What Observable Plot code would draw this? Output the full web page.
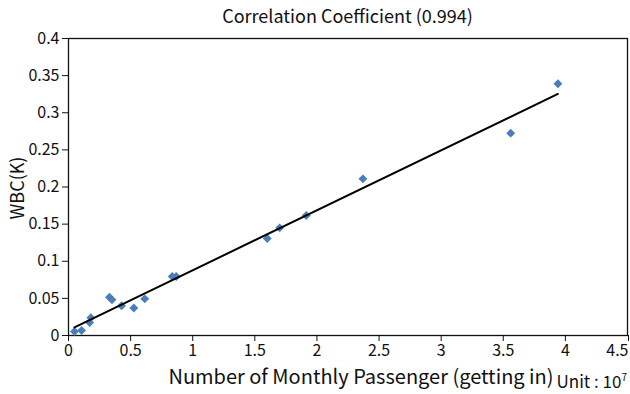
<!DOCTYPE html>
<html>
<head>
<meta charset="utf-8">
<script src="https://cdn.jsdelivr.net/npm/d3@7"></script>
<script src="https://cdn.jsdelivr.net/npm/@observablehq/plot@0.6"></script>
<style>
  body { margin: 0; background: #fff; }
  #chart { position: relative; width: 630px; height: 394px; overflow: hidden; font-family: "Noto Sans CJK KR", "Open Sans", sans-serif; color: #111; }
  #chart .lbl { position: absolute; white-space: nowrap; line-height: 1; }
  #title { top: 6px; left: 68px; width: 559px; text-align: center; font-size: 18px; }
  #xlabel { top: 366px; left: 361px; transform: translateX(-50%); font-size: 20px; }
  #ylabel { top: 188px; left: 16px; transform: translate(-50%, -50%) rotate(-90deg); font-size: 18px; }
  #unit { top: 372px; right: 3px; font-size: 17px; }
  #unit sup { font-size: 10px; vertical-align: 7px; }
</style>
</head>
<body>
<div id="chart">
  <div class="lbl" id="title">Correlation Coefficient (0.994)</div>
  <div class="lbl" id="ylabel">WBC(K)</div>
  <div class="lbl" id="xlabel">Number of Monthly Passenger (getting in)</div>
  <div class="lbl" id="unit">Unit : 10<sup>7</sup></div>
</div>
<script>
// Monthly passengers (units of 10^7) and WBC (K) per station
const passengers = [0.048, 0.105, 0.17, 0.18, 0.33, 0.35, 0.427, 0.526, 0.614, 0.835, 0.867, 1.60, 1.70, 1.914, 2.37, 3.56, 3.94];
const wbc        = [0.0054, 0.0067, 0.0175, 0.024, 0.0516, 0.048, 0.040, 0.037, 0.0494, 0.0795, 0.0795, 0.1306, 0.145, 0.1616, 0.211, 0.2725, 0.339];

// Axis tick values
const xTicks = [0, 0.5, 1, 1.5, 2, 2.5, 3, 3.5, 4, 4.5];
const yTicks = [0, 0.05, 0.1, 0.15, 0.2, 0.25, 0.3, 0.35, 0.4];

const points = passengers.map((x, i) => ({x, y: wbc[i]}));
const fmt = d => String(d);
const xLast = xTicks[xTicks.length - 1];

const plot = Plot.plot({
  width: 630,
  height: 394,
  marginTop: 38,
  marginRight: 3,
  marginBottom: 59,
  marginLeft: 68,
  style: {fontFamily: "'Noto Sans CJK KR', 'Open Sans', sans-serif", fontSize: "16px", color: "#111", background: "transparent"},
  x: {domain: [0, 4.5]},
  y: {domain: [0, 0.4]},
  marks: [
    Plot.frame({stroke: "#111", strokeWidth: 1.3}),
    // last x label is right-aligned to its tick so it stays inside the chart
    Plot.axisX({ticks: xTicks.slice(0, -1), tickFormat: fmt, tickSize: 6, tickPadding: 3, label: null, fontSize: 16, stroke: "#111"}),
    Plot.axisX({ticks: [xLast], tickFormat: fmt, tickSize: 6, tickPadding: 3, label: null, fontSize: 16, stroke: "#111", textAnchor: "end", dx: 1}),
    Plot.axisY({ticks: yTicks, tickFormat: fmt, tickSize: 6, tickPadding: 3, label: null, fontSize: 16, stroke: "#111"}),
    Plot.dot(points, {x: "x", y: "y", symbol: "diamond2", r: 4, fill: "#4a7ebb", stroke: "none"}),
    Plot.linearRegressionY(points, {x: "x", y: "y", ci: 0, stroke: "#000", strokeWidth: 2})
  ]
});

document.getElementById("chart").prepend(plot);
plot.style.position = "absolute";
plot.style.left = "0";
plot.style.top = "0";
</script>
</body>
</html>
